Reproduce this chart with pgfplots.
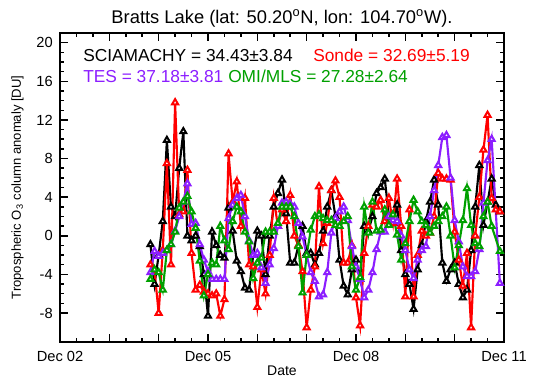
\documentclass[border=0pt]{standalone}
\usepackage{fontspec}
\setmainfont{Liberation Sans}
\usepackage{pgfplots}
\pgfplotsset{compat=1.18}
\usepackage{pgfplotstable}
\definecolor{ipurple}{RGB}{140,30,255}
\definecolor{igreen}{RGB}{0,160,0}
\definecolor{ired}{RGB}{255,0,0}

% x = months since Dec 2002, v = anomaly [DU]
\pgfplotstableread{
m v
22 -0.9
23 -5.0
24 -2.0
25 1.5
26 9.9
27 3.0
28 2.0
29 7.0
30 10.8
31 0.0
32 -0.5
33 0.0
34 -1.1
35 -4.0
36 -8.3
37 0.4
38 -1.0
39 -2.0
40 -2.3
41 2.9
42 0.5
43 -2.6
44 -3.7
45 -5.4
46 -5.6
47 -2.0
48 0.5
49 0.0
50 -4.0
51 0.0
52 3.0
53 4.4
54 5.8
55 2.3
56 -2.8
57 -2.8
58 -1.0
59 1.0
60 -1.8
61 -1.8
62 -3.0
63 -1.8
64 0.5
65 3.0
66 4.7
67 2.0
68 -2.5
69 -5.2
70 -6.1
71 -3.5
72 -2.5
73 -4.5
74 1.0
75 0.5
76 2.0
77 4.4
78 5.0
79 5.9
80 2.0
81 1.3
82 3.2
83 -1.5
84 -4.0
85 -5.0
86 -7.6
87 -3.5
88 -1.0
89 1.5
90 3.5
91 5.8
92 3.2
93 -2.8
94 -4.7
95 -3.5
96 -2.8
97 -5.0
98 -6.4
99 -5.6
100 -1.5
101 3.0
102 7.3
103 1.1
104 3.5
105 5.9
106 3.2
107 2.5
}\sciamachy

\pgfplotstableread{
m v
22 -3.0
23 -3.7
24 -8.0
25 -1.5
26 7.5
27 -3.0
28 13.8
29 2.2
30 2.5
31 6.8
32 -1.8
33 -5.6
34 -5.1
35 -5.8
36 -6.0
37 -6.2
38 -6.0
39 -8.3
40 -6.6
41 8.5
42 3.5
43 5.6
44 1.0
45 3.9
46 -3.0
47 -3.2
48 -7.4
49 -3.5
50 -6.0
51 -2.0
52 3.9
53 1.0
54 2.7
55 1.5
56 4.2
57 0.0
58 -1.0
59 -3.7
60 -9.5
61 -5.6
62 -3.2
63 5.1
64 -0.8
65 1.3
66 4.7
67 5.7
68 4.0
69 -2.8
70 -2.8
71 -1.0
72 -6.4
73 -9.3
74 -1.8
75 1.0
76 3.2
77 3.0
78 3.7
79 1.5
80 3.9
81 1.3
82 5.9
83 1.0
84 -6.3
85 2.7
86 -6.3
87 -2.0
88 0.5
89 0.0
90 0.3
91 2.0
92 6.5
93 5.9
94 5.9
95 5.8
96 0.4
97 -2.5
98 -5.2
99 -1.8
100 -9.5
101 0.0
102 4.0
103 8.9
104 12.5
105 3.9
106 2.7
107 2.5
}\sonde

\pgfplotstableread{
m v
22 -3.8
23 -1.6
24 -2.1
25 -1.8
26 -1.5
27 -0.9
28 0.5
29 2.0
30 3.5
31 5.4
32 1.2
33 1.3
34 -0.9
35 -2.5
36 -3.7
37 -4.5
38 -4.5
39 -4.5
40 -4.5
41 1.8
42 3.2
43 3.9
44 4.2
45 2.0
46 -0.5
47 -2.0
48 -1.8
49 -3.3
50 -4.9
51 -3.0
52 -1.3
53 1.0
54 3.4
55 3.5
56 3.3
57 3.0
58 1.3
59 -0.1
60 -2.0
61 -3.8
62 -4.7
63 -6.3
64 -6.1
65 -3.8
66 0.3
67 1.8
68 2.5
69 3.0
70 1.6
71 -1.1
72 -3.2
73 -4.5
74 -6.4
75 -5.6
76 -3.8
77 -1.4
78 0.4
79 0.4
80 2.0
81 1.6
82 1.5
83 0.0
84 -1.5
85 -3.5
86 -4.4
87 -2.5
88 -1.5
89 -1.1
90 2.0
91 4.7
92 7.3
93 10.2
94 10.4
95 6.0
96 1.6
97 -0.6
98 -3.2
99 -4.2
100 -4.2
101 -3.7
102 -1.4
103 3.4
104 7.8
105 10.0
107 -4.9
}\tes

\pgfplotstableread{
m v
22 -4.5
23 -3.5
24 -3.8
25 -5.6
26 -1.5
27 -0.9
28 0.4
29 2.9
30 3.5
31 4.1
32 2.5
33 0.8
34 -2.6
35 -6.2
36 -4.0
37 -2.8
38 -3.0
39 1.0
40 -0.5
41 -1.4
42 1.5
43 3.0
44 2.5
45 0.4
46 -0.6
47 -4.4
48 -2.8
49 -2.3
50 0.4
51 0.4
52 0.4
53 1.3
54 3.0
55 3.0
56 3.0
57 2.0
58 -1.1
59 -5.9
60 -2.0
61 0.6
62 2.0
63 2.2
64 1.8
65 1.6
66 1.6
67 1.1
68 1.0
69 1.5
70 2.0
71 -3.2
72 -5.6
73 -4.3
74 3.0
75 0.3
76 3.5
77 0.5
78 0.6
79 2.7
80 1.1
81 2.2
82 0.1
83 -2.5
84 -0.8
85 1.5
86 3.7
87 2.5
88 1.5
89 1.1
90 0.3
91 1.0
92 1.5
93 2.0
94 3.0
95 0.0
96 -3.3
97 -1.0
98 1.6
99 4.9
100 1.1
101 -0.8
102 -1.1
103 2.0
104 3.5
105 1.0
107 -1.6
}\omimls

\begin{document}
\begin{tikzpicture}
\begin{axis}[
  scale only axis,
  width=333pt, height=231.75pt,
  xmin=0, xmax=108, ymin=-11, ymax=21,
  xtick={0,12,...,108},
  xticklabels={Dec 02,,,Dec 05,,,Dec 08,,,Dec 11},
  minor x tick num=2,
  ytick={-8,-4,...,20},
  minor y tick num=3,
  tick align=inside,
  major tick length=6pt, minor tick length=3pt,
  every tick/.style={line width=1.1pt, black},
  axis line style={line width=1.5pt},
  /pgf/number format/assume math mode=true,
  every tick label/.append style={font=\fontsize{11}{13}\selectfont, inner sep=0pt},
  yticklabel style={anchor=east, xshift=-5.25pt},
  xticklabel style={anchor=base, yshift=-14.25pt},
  xlabel={Date},
  xlabel style={at={(axis description cs:0.5,0)}, anchor=base, yshift=-24.75pt, inner sep=0pt, font=\fontsize{10.5}{12}\selectfont},
  ylabel={Tropospheric O\textsubscript{3} column anomaly [DU]},
  ylabel style={at={([xshift=-29.25pt]axis description cs:0,0.5)}, anchor=base, inner sep=0pt, font=\fontsize{9.8}{12}\selectfont},
  title={Bratts Lake (lat: 50.20\textsuperscript{o}N, lon: 104.70\textsuperscript{o}W).},
  title style={at={(axis description cs:0.5,1)}, anchor=base, yshift=0.9pt, inner sep=0pt, font=\fontsize{13.75}{15}\selectfont},
  every axis plot/.append style={line width=1.6pt, mark=triangle*, mark size=2.6pt, mark options={solid, fill=white, line width=1.5pt}},
]
\addplot[black] table[x=m, y=v]{\sciamachy};
\addplot[ired] table[x=m, y=v]{\sonde};
\addplot[ipurple] table[x=m, y=v]{\tes};
\addplot[igreen] table[x=m, y=v]{\omimls};

\node[anchor=base west, inner sep=0pt, font=\fontsize{13}{15}\selectfont] at ([xshift=17.25pt, yshift=-21pt]rel axis cs:0,1) {SCIAMACHY = 34.43±3.84};
\node[anchor=base west, inner sep=0pt, text=ired, font=\fontsize{13}{15}\selectfont] at ([xshift=189.75pt, yshift=-21pt]rel axis cs:0,1) {Sonde = 32.69±5.19};
\node[anchor=base west, inner sep=0pt, text=ipurple, font=\fontsize{13}{15}\selectfont] at ([xshift=17.25pt, yshift=-37pt]rel axis cs:0,1) {TES = 37.18±3.81};
\node[anchor=base west, inner sep=0pt, text=igreen, font=\fontsize{13}{15}\selectfont] at ([xshift=126pt, yshift=-37pt]rel axis cs:0,1) {OMI/MLS = 27.28±2.64};
\end{axis}
\pgfresetboundingbox
\path[use as bounding box] ([xshift=-45pt, yshift=-25.5pt]current axis.south west) rectangle ++(402.75pt, 282pt);
\end{tikzpicture}
\end{document}
